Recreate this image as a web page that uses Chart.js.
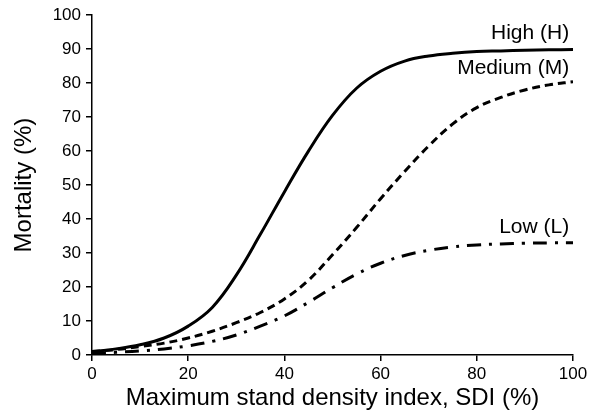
<!DOCTYPE html>
<html>
<head>
<meta charset="utf-8">
<script src="https://cdn.jsdelivr.net/npm/chart.js@4"></script>
<style>
  html, body { margin: 0; padding: 0; background: #fff; }
  #wrap { width: 595px; height: 417px; }
</style>
</head>
<body>
<div id="wrap"><canvas id="chartDiv"></canvas></div>
<script>
const sdi = [0, 5, 10, 15, 20, 25, 30, 35, 40, 45, 50, 55, 60, 65, 70, 75, 80, 85, 90, 95, 100]
const high = [1, 1.8, 3, 5, 8.5, 14, 23.5, 35.5, 48, 60, 70.5, 78.5, 83.5, 86.5, 88, 88.8, 89.3, 89.5, 89.7, 89.8, 89.9]
const medium = [1, 1.6, 2.5, 3.5, 5, 7, 9.5, 12.5, 16.5, 22, 29.5, 37.5, 46, 54, 61.5, 68, 72.8, 75.8, 78, 79.5, 80.4]
const low = [0.5, 0.8, 1.2, 1.8, 2.7, 4, 5.9, 8.5, 11.5, 15.5, 19.8, 23.8, 27, 29.3, 30.8, 31.8, 32.4, 32.7, 32.9, 33, 33]
const curveLabels = ['High (H)', 'Medium (M)', 'Low (L)']

const toPoints = (ys) => sdi.map((x, i) => ({ x: x, y: ys[i] }))

// text labels placed near the right end of each curve
const labelSpots = [
  { text: curveLabels[0], x: 99.2, y: 94.7 },
  { text: curveLabels[1], x: 99.2, y: 84.4 },
  { text: curveLabels[2], x: 99.2, y: 37.6 }
]

const curveLabelPlugin = {
  id: 'curveLabels',
  afterDatasetsDraw(chart) {
    const ctx = chart.ctx
    const xs = chart.scales.x
    const ys = chart.scales.y
    ctx.save()
    ctx.font = '21px "Liberation Sans", Arial, sans-serif'
    ctx.fillStyle = '#000'
    ctx.textAlign = 'right'
    ctx.textBaseline = 'middle'
    labelSpots.forEach(l => {
      ctx.fillText(l.text, xs.getPixelForValue(l.x), ys.getPixelForValue(l.y))
    })
    ctx.restore()
  }
}

const tickFont = { size: 17, family: '"Liberation Sans", Arial, sans-serif' }
const titleFont = { size: 24, family: '"Liberation Sans", Arial, sans-serif' }

new Chart(document.getElementById('chartDiv'), {
  type: 'line',
  data: {
    datasets: [
      {
        label: curveLabels[0],
        data: toPoints(high),
        borderColor: '#000',
        borderWidth: 3,
        pointRadius: 0,
        tension: 0.4
      },
      {
        label: curveLabels[1],
        data: toPoints(medium),
        borderColor: '#000',
        borderWidth: 3,
        borderDash: [8, 5],
        pointRadius: 0,
        tension: 0.4
      },
      {
        label: curveLabels[2],
        data: toPoints(low),
        borderColor: '#000',
        borderWidth: 3,
        borderDash: [14, 8, 3, 8],
        pointRadius: 0,
        tension: 0.4
      }
    ]
  },
  options: {
    responsive: true,
    maintainAspectRatio: false,
    animation: false,
    events: [],
    layout: {
      padding: { top: 15, right: 22, left: 0, bottom: 0 }
    },
    scales: {
      x: {
        type: 'linear',
        min: 0,
        max: 100,
        afterFit: (s) => { s.height = 62 },
        ticks: { stepSize: 20, color: '#000', font: tickFont, padding: 3, maxRotation: 0 },
        grid: { drawOnChartArea: false, drawTicks: true, tickLength: 6, color: '#000', lineWidth: 1.5 },
        border: { color: '#000', width: 1.5 },
        title: {
          display: true,
          text: 'Maximum stand density index, SDI (%)',
          color: '#000',
          font: titleFont,
          padding: { top: 0, bottom: 4 }
        }
      },
      y: {
        min: 0,
        max: 100,
        afterFit: (s) => { s.width = 92 },
        ticks: { stepSize: 10, color: '#000', font: tickFont, padding: 5 },
        grid: { drawOnChartArea: false, drawTicks: true, tickLength: 6, color: '#000', lineWidth: 1.5 },
        border: { color: '#000', width: 1.5 },
        title: {
          display: true,
          text: 'Mortality (%)',
          color: '#000',
          font: titleFont,
          padding: { top: 10, bottom: 0 }
        }
      }
    },
    plugins: {
      legend: { display: false },
      tooltip: { enabled: false }
    }
  },
  plugins: [curveLabelPlugin]
});
</script>
</body>
</html>
